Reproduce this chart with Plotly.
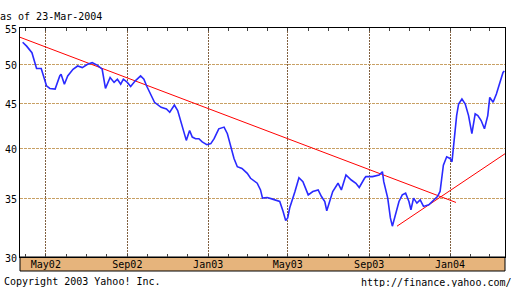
import plotly.graph_objects as go

# ---- data ----
dates = ["2002-03-27","2002-04-02","2002-04-10","2002-04-15","2002-04-17","2002-04-24","2002-04-27",
         "2002-05-02","2002-05-07","2002-05-15","2002-05-22","2002-05-24","2002-05-29","2002-06-03",
         "2002-06-11","2002-06-18","2002-06-25","2002-07-03","2002-07-10","2002-07-18","2002-07-25",
         "2002-07-30","2002-08-06","2002-08-12","2002-08-17","2002-08-22","2002-08-26","2002-09-01",
         "2002-09-06","2002-09-13","2002-09-21","2002-09-26","2002-09-30","2002-10-05","2002-10-12",
         "2002-10-22","2002-10-30","2002-11-04","2002-11-11","2002-11-16","2002-11-21","2002-11-25",
         "2002-11-29","2002-12-04","2002-12-08","2002-12-13","2002-12-18","2002-12-23","2002-12-30",
         "2003-01-05","2003-01-10","2003-01-17","2003-01-25","2003-01-30","2003-02-04","2003-02-09",
         "2003-02-14","2003-02-21","2003-03-01","2003-03-06","2003-03-16","2003-03-21","2003-03-24",
         "2003-03-31","2003-04-07","2003-04-19","2003-04-24","2003-04-28","2003-05-01","2003-05-04",
         "2003-05-12","2003-05-18","2003-05-24","2003-06-01","2003-06-08","2003-06-16","2003-06-21",
         "2003-06-26","2003-06-29","2003-07-03","2003-07-08","2003-07-16","2003-07-21","2003-07-28",
         "2003-08-05","2003-08-12","2003-08-17","2003-08-25","2003-08-27","2003-09-06","2003-09-16",
         "2003-09-21","2003-09-23","2003-09-29","2003-10-03","2003-10-06","2003-10-11","2003-10-16",
         "2003-10-21","2003-10-26","2003-10-31","2003-11-03","2003-11-07","2003-11-12","2003-11-17",
         "2003-11-22","2003-11-30","2003-12-07","2003-12-13","2003-12-17","2003-12-20","2003-12-22",
         "2003-12-27","2004-01-01","2004-01-04","2004-01-06","2004-01-09","2004-01-11","2004-01-14",
         "2004-01-19","2004-01-24","2004-01-29","2004-02-03","2004-02-08","2004-02-12","2004-02-17",
         "2004-02-22","2004-02-27","2004-03-01","2004-03-06","2004-03-11","2004-03-16","2004-03-21",
         "2004-03-23"]
prices = [52.97,52.42,51.52,50.18,49.40,49.40,48.45,
          47.20,46.87,46.79,48.45,48.67,47.40,48.45,
          49.31,49.74,49.53,49.96,50.18,49.83,49.31,
          46.87,48.25,47.62,48.03,47.40,48.03,47.62,
          47.12,47.82,48.45,48.03,47.20,46.39,45.18,
          44.59,44.40,44.01,44.86,44.20,42.87,41.76,
          40.85,41.93,41.21,41.03,41.03,40.68,40.39,
          40.50,41.03,42.12,42.31,41.58,40.32,38.94,
          38.10,37.93,37.44,36.95,36.47,35.83,35.06,
          35.12,34.99,34.75,33.86,33.03,33.27,34.15,
          35.68,37.01,36.62,35.36,35.68,35.83,35.21,
          34.75,33.91,34.75,35.68,36.47,35.83,37.27,
          36.78,36.47,36.06,36.95,37.11,37.11,37.27,
          37.60,36.62,35.06,33.27,32.55,33.56,34.75,
          35.36,35.52,34.75,34.00,35.06,34.60,34.90,
          34.30,34.45,34.90,35.21,35.68,36.95,38.26,
          39.11,38.94,38.60,39.97,41.39,43.62,44.98,
          45.58,44.98,43.62,41.58,43.82,43.62,43.05,
          42.12,43.62,45.78,45.18,46.18,47.40,48.89,
          49.09]

trend_down_dates = ["2002-03-23", "2004-01-10"]
trend_down_values = [53.67, 34.66]
trend_up_dates = ["2003-10-13", "2004-03-24"]
trend_up_values = [32.55, 39.43]

y_ticks = [30, 35, 40, 45, 50, 55]
x_tick_dates = ["2002-05-01", "2002-09-01", "2003-01-01", "2003-05-01", "2003-09-01", "2004-01-01"]
x_tick_labels = ["May02", "Sep02", "Jan03", "May03", "Sep03", "Jan04"]

MONO = "DejaVu Sans Mono"

fig = go.Figure()
fig.add_trace(go.Scatter(x=trend_down_dates, y=trend_down_values, mode="lines",
                         line=dict(color="#ff0000", width=1), hoverinfo="skip"))
fig.add_trace(go.Scatter(x=trend_up_dates, y=trend_up_values, mode="lines",
                         line=dict(color="#ff0000", width=1), hoverinfo="skip"))
fig.add_trace(go.Scatter(x=dates, y=prices, mode="lines",
                         line=dict(color="#2a2aff", width=1.6)))

fig.update_layout(
    width=511, height=287,
    margin=dict(l=16, r=5, t=28, b=30, pad=0),
    paper_bgcolor="white", plot_bgcolor="white",
    showlegend=False,
    font=dict(family=MONO, size=10, color="black"),
    title=dict(text="as of 23-Mar-2004", x=0, xref="container", xanchor="left",
               y=1 - 16 / 287, yref="container", yanchor="middle",
               font=dict(family=MONO, size=10, color="black")),
    xaxis=dict(
        type="date", range=["2002-03-23", "2004-03-24"],
        tickmode="array", tickvals=x_tick_dates, ticktext=x_tick_labels,
        showgrid=True, gridcolor="#806040", gridwidth=1, griddash="2px,1px",
        ticks="", showline=True, linecolor="black", linewidth=1, mirror="ticks",
        tickfont=dict(family=MONO, size=10, color="black"),
        ticklabelstandoff=-2,
        minor=dict(tickmode="linear", tick0="2002-01-01", dtick="M1", ticks="inside",
                   ticklen=3, tickcolor="#444", tickwidth=1, showgrid=False),
        zeroline=False, fixedrange=True,
    ),
    yaxis=dict(
        type="log", range=[1.47712125, 1.74036269],
        tickmode="array", tickvals=y_ticks, ticktext=[str(v) for v in y_ticks],
        showgrid=True, gridcolor="#c8a064", gridwidth=1, griddash="3px,1px",
        ticks="", showline=True, linecolor="black", linewidth=1, mirror=True,
        tickfont=dict(family=MONO, size=10, color="black"),
        ticklabelshift=1,
        zeroline=False, fixedrange=True,
    ),
    shapes=[dict(type="rect", xref="paper", yref="paper", x0=0, x1=1, y0=-14 / 229, y1=0,
                 fillcolor="#e6b47c", line=dict(color="black", width=1), layer="below")],
    annotations=[
        dict(text="Copyright 2003 Yahoo! Inc.", xref="paper", yref="paper",
             x=-18 / 490, y=-24 / 229, xanchor="left", yanchor="middle", showarrow=False,
             font=dict(family=MONO, size=10, color="black")),
        dict(text="http://finance.yahoo.com/", xref="paper", yref="paper",
             x=1 + 9 / 490, y=-25 / 229, xanchor="right", yanchor="middle", showarrow=False,
             font=dict(family=MONO, size=10, color="black")),
    ],
)

fig.write_html("out.html")
